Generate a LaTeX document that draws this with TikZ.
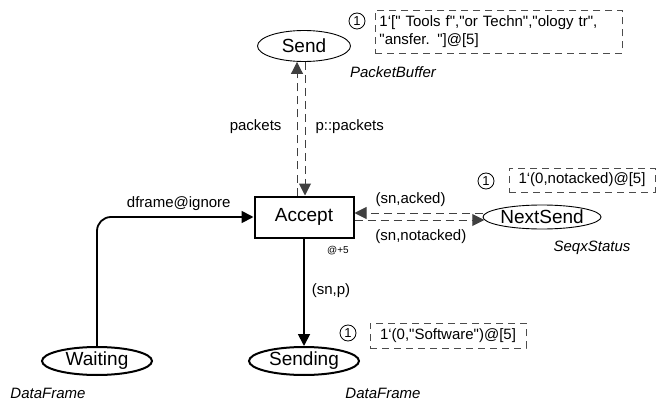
\documentclass[tikz,border=0pt]{standalone}
\usepackage{fontspec}
\setmainfont{Liberation Sans}[Ligatures=TeXOff]
\usetikzlibrary{arrows.meta,shapes.geometric}

\begin{document}
\begin{tikzpicture}[x=1pt, y=-1pt,
  place/.style={draw, ellipse, inner sep=0pt, line width=0.9pt, minimum width=110pt, minimum height=24pt, font=\fontsize{19}{21}\selectfont},
  thickplace/.style={place, line width=2pt, minimum height=28pt},
  trans/.style={draw, rectangle, line width=2pt, minimum width=99pt, minimum height=41pt, font=\fontsize{19}{21}\selectfont},
  tip/.style={-{Triangle[length=12pt, width=12pt]}},
  arc/.style={tip, line width=1.8pt},
  dasharc/.style={tip, line width=1pt, black!75, dash pattern=on 8pt off 5pt},
  lab/.style={inner sep=0pt, text=black, font=\fontsize{15}{17}\selectfont},
  typ/.style={lab, font=\fontsize{15}{17}\selectfont\itshape},
  tok/.style={draw, circle, line width=0.8pt, inner sep=0pt, minimum size=16pt, font=\fontsize{13}{15}\selectfont},
  tokbox/.style={draw=black!70, line width=0.9pt, dash pattern=on 7pt off 5pt, inner sep=0pt, font=\fontsize{15}{18}\selectfont}
]
\useasboundingbox (0,0) rectangle (656,401);

% Places
\node[place, minimum width=93pt, minimum height=31pt] (send) at (304,46) {Send};
\node[place] (nextsend) at (542,217) {NextSend};
\node[thickplace] (waiting) at (97,361) {Waiting};
\node[thickplace] (sending) at (304,361) {Sending};

% Transition
\node[trans] (accept) at (304,217) {Accept};
\node[lab, font=\fontsize{10}{12}\selectfont] (acceptdelay) at (338,251) {@+5};

% Colour sets
\node[typ] (sendtype) at (393,72) {PacketBuffer};
\node[typ] (nexttype) at (592,248) {SeqxStatus};
\node[typ] (waittype) at (48,393) {DataFrame};
\node[typ] (sendingtype) at (383,393) {DataFrame};

% Markings
\node[tok] (sendone) at (357,21) {1};
\node[tokbox, anchor=north west, minimum width=247pt, minimum height=43pt, text width=239pt, inner xsep=4pt, align=left] (sendmark) at (375,10)
  {1‘[" Tools f","or Techn","ology tr",\\"ansfer. "]@[5]};
\node[tok] (nextone) at (486,181) {1};
\node[tokbox, minimum width=146pt, minimum height=24pt] (nextmark) at (582,180) {1‘(0,notacked)@[5]};
\node[tok] (sendingone) at (348,333) {1};
\node[tokbox, minimum width=156pt, minimum height=25pt] (sendingmark) at (448,335.5) {1‘(0,"Software")@[5]};

% Arcs Send / Accept
\draw[dasharc] ([xshift=-7pt]accept.north) -- ([xshift=-7pt]send.south)
  node[lab, midway, left, xshift=-15pt, yshift=2pt] {packets};
\draw[dasharc] ([xshift=1pt]send.south) -- ([xshift=1pt]accept.north)
  node[lab, midway, right, xshift=10pt, yshift=2pt] {p::packets};
% Arcs NextSend / Accept
\draw[dasharc] ([yshift=4pt]nextsend.west) -- ([yshift=4pt]accept.east)
  node[lab, midway, above, xshift=-8pt, yshift=6pt] {(sn,acked)};
\draw[dasharc] ([yshift=-3pt]accept.east) -- ([yshift=-3pt, xshift=1.7pt]nextsend.west)
  node[lab, midway, below, xshift=1.5pt, yshift=-9pt] {(sn,notacked)};
% Arc Waiting / Accept
\draw[arc, rounded corners=14pt] (waiting.north) |- (accept.west)
  node[lab, pos=0.75, above, xshift=3.5pt, yshift=5pt] {dframe@ignore};
% Arc Accept / Sending
\draw[arc] (accept.south) -- (sending.north)
  node[lab, midway, right, xshift=7pt, yshift=2pt] {(sn,p)};
\end{tikzpicture}
\end{document}
